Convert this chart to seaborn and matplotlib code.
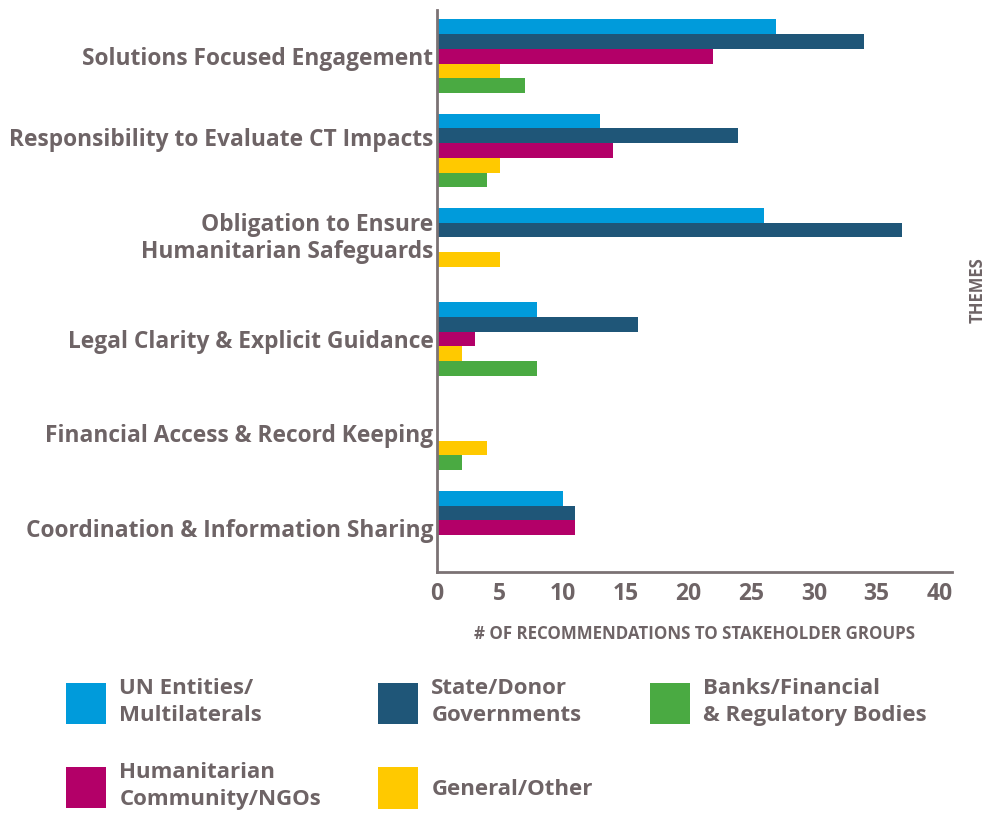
import matplotlib
matplotlib.use("Agg")
import matplotlib.pyplot as plt
import matplotlib.transforms as mtransforms
import seaborn as sns
import pandas as pd
from matplotlib.patches import Patch

# ---- data ----
themes = [
    "Solutions Focused Engagement",
    "Responsibility to Evaluate CT Impacts",
    "Obligation to Ensure\nHumanitarian Safeguards",
    "Legal Clarity & Explicit Guidance",
    "Financial Access & Record Keeping",
    "Coordination & Information Sharing",
]
groups = [
    "UN Entities/\nMultilaterals",
    "State/Donor\nGovernments",
    "Humanitarian\nCommunity/NGOs",
    "General/Other",
    "Banks/Financial\n& Regulatory Bodies",
]
un_entities = [27, 13, 26, 8, 0, 10]
state_donor = [34, 24, 37, 16, 0, 11]
humanitarian = [22, 14, 0, 3, 0, 11]
general_other = [5, 5, 5, 2, 4, 0]
banks_financial = [7, 4, 0, 8, 2, 0]
x_ticks = [0, 5, 10, 15, 20, 25, 30, 35, 40]

colors = ["#009BDB", "#1F5678", "#B30068", "#FFC900", "#4AAA42"]
text_color = "#6E6466"
spine_color = "#7B7274"

series = [un_entities, state_donor, humanitarian, general_other, banks_financial]
rows = []
for g, vals in zip(groups, series):
    for t, v in zip(themes, vals):
        rows.append({"Theme": t, "Group": g, "Count": v})
df = pd.DataFrame(rows)

sns.set_theme(style="white")
plt.rcParams["font.family"] = ["Open Sans", "DejaVu Sans"]

W, H = 987, 814
fig = plt.figure(figsize=(W / 100, H / 100), dpi=100)
ax = fig.add_axes([437 / W, 1 - 572 / H, (952 - 437) / W, (572 - 10) / H])

sns.barplot(data=df, y="Theme", x="Count", hue="Group", order=themes,
            hue_order=groups, palette=colors, orient="h", width=0.78,
            saturation=1, linewidth=0, legend=False, ax=ax)

ax.set_xlim(0, 41)
ax.set_ylim(5.47, -0.49)
ax.set_xticks(x_ticks)
ax.set_xticklabels([str(v) for v in x_ticks])
ax.tick_params(axis="both", length=0, colors=text_color)
ax.tick_params(axis="x", pad=7, labelsize=16.5)
ax.tick_params(axis="y", pad=2.5, labelsize=16.4)
for lbl in ax.get_xticklabels() + ax.get_yticklabels():
    lbl.set_fontweight("bold")
    lbl.set_color(text_color)

# small vertical nudges of some theme labels (in points) as in the original
label_nudge_pt = [0, 10, 8, 0, 0, 0]
for lbl, dy in zip(ax.get_yticklabels(), label_nudge_pt):
    if dy:
        lbl.set_transform(lbl.get_transform() +
                          mtransforms.ScaledTranslation(0, dy / 72, fig.dpi_scale_trans))

for s in ["top", "right"]:
    ax.spines[s].set_visible(False)
for s in ["left", "bottom"]:
    ax.spines[s].set_color(spine_color)
    ax.spines[s].set_linewidth(2)

ax.set_xlabel("# OF RECOMMENDATIONS TO STAKEHOLDER GROUPS", fontsize=12.2,
              fontweight="bold", color=text_color, labelpad=14)
ax.set_ylabel("")
fig.text(978 / W, 1 - 290 / H, "THEMES", rotation=90, ha="center", va="center",
         fontsize=12, fontweight="bold", color=text_color)

# ---- legend: one entry per box, placed in a 3-column grid ----
legend_pos = [(66, 678), (378, 678), (66, 762), (378, 767), (650, 678)]
fs_leg = 16
for g, c, (px, py) in zip(groups, colors, legend_pos):
    leg = fig.legend(handles=[Patch(facecolor=c, edgecolor="none", label=g)],
                     loc="upper left", bbox_to_anchor=(px / W, 1 - py / H),
                     bbox_transform=fig.transFigure, frameon=False,
                     borderpad=0, borderaxespad=0, handlelength=1.8,
                     handleheight=2.5, handletextpad=0.6,
                     prop={"size": fs_leg, "weight": "bold"},
                     labelcolor=text_color)
    for t in leg.get_texts():
        t.set_linespacing(1.4)

fig.savefig("out.png", dpi=100)
